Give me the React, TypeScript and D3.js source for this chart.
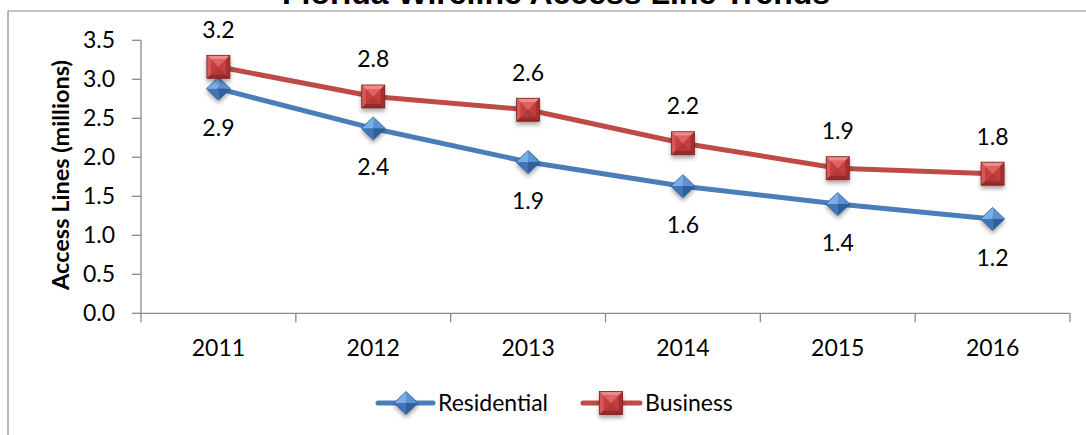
import React from 'react';
import * as d3 from 'd3';

// chart data (millions of access lines)
const years = ['2011', '2012', '2013', '2014', '2015', '2016'];
const residential = [2.88, 2.37, 1.94, 1.63, 1.40, 1.21];
const business = [3.16, 2.78, 2.61, 2.18, 1.86, 1.79];
const yTicks = [0, 0.5, 1.0, 1.5, 2.0, 2.5, 3.0, 3.5];

const title = 'Florida Wireline Access Line Trends';
const yTitle = 'Access Lines (millions)';

const W = 1086;
const H = 435;
const plot = { left: 141, right: 1070, top: 40.3, bottom: 313.3 };
const font = 'Lato, "Open Sans", sans-serif';
const fs = 23;
const axisColor = '#8a8a8a';
const blue = '#4A7EBB';
const red = '#BE4B48';

const Diamond = ({ x, y }: { x: number; y: number }) => {
  const w = 12, h = 11.5;
  return (
    <g transform={`translate(${x},${y})`} filter="url(#mshadow)">
      <polygon points={`0,${-h} ${-w},0 0,0`} fill="#7aaee6" />
      <polygon points={`0,${-h} ${w},0 0,0`} fill="#5b92d3" />
      <polygon points={`${-w},0 0,${h} 0,0`} fill="#3f76b9" />
      <polygon points={`${w},0 0,${h} 0,0`} fill="#2f609d" />
      <polygon points={`0,${-h} ${w},0 0,${h} ${-w},0`} fill="none" stroke="#2a5890" strokeWidth={0.8} />
    </g>
  );
};

const Square = ({ x, y }: { x: number; y: number }) => {
  const s = 11.5, i = 4;
  return (
    <g transform={`translate(${x},${y})`} filter="url(#mshadow)">
      <rect x={-s} y={-s} width={2 * s} height={2 * s} fill="#c43f3f" />
      <polygon points={`${-s},${-s} ${s},${-s} ${s - i},${-s + i} ${-s + i},${-s + i}`} fill="#f08a8a" />
      <polygon points={`${-s},${-s} ${-s + i},${-s + i} ${-s + i},${s - i} ${-s},${s}`} fill="#d85858" />
      <polygon points={`${s},${-s} ${s},${s} ${s - i},${s - i} ${s - i},${-s + i}`} fill="#a92f2f" />
      <polygon points={`${-s},${s} ${s},${s} ${s - i},${s - i} ${-s + i},${s - i}`} fill="#962a2a" />
      <polygon points={`${-s + i},${-s + i} ${s - i},${-s + i} 0,0`} fill="#e06464" />
      <polygon points={`${-s + i},${s - i} ${s - i},${s - i} 0,0`} fill="#b53838" />
      <rect x={-s} y={-s} width={2 * s} height={2 * s} fill="none" stroke="#7a2424" strokeWidth={0.8} />
    </g>
  );
};

export default function App() {
  const x = d3.scaleBand<string>().domain(years).range([plot.left, plot.right]).padding(0);
  const y = d3.scaleLinear().domain([0, 3.5]).range([plot.bottom, plot.top]);
  const cx = (yr: string) => (x(yr) ?? 0) + x.bandwidth() / 2;
  const fmt = d3.format('.1f');

  const line = d3.line<number>()
    .x((_, i) => cx(years[i]))
    .y(d => y(d));

  const boundaries = [...years.map(yr => x(yr) ?? 0), plot.right];

  return (
    <div style={{ position: 'absolute', left: 0, top: 0 }}>
      <svg width={W} height={H} style={{ display: 'block', background: '#fff' }}>
        <defs>
          <filter id="mshadow" x="-50%" y="-50%" width="200%" height="220%">
            <feDropShadow dx={0} dy={3} stdDeviation={2} floodColor="#000" floodOpacity={0.35} />
          </filter>
        </defs>

        {/* frame */}
        <line x1={8} x2={W} y1={11} y2={11} stroke="#8c8c8c" strokeWidth={1.2} />
        <line x1={8} x2={8} y1={11} y2={H} stroke="#8c8c8c" strokeWidth={1.2} />

        {/* title (cut off at the top edge, as in the source) */}
        <text x={556} y={4} textAnchor="middle" fontFamily='"Liberation Sans", Arial, sans-serif'
          fontWeight="bold" fontSize={32} fill="#000">{title}</text>

        {/* y axis */}
        <line x1={plot.left} x2={plot.left} y1={plot.top} y2={plot.bottom} stroke={axisColor} strokeWidth={1.3} />
        {yTicks.map(t => (
          <g key={t}>
            <line x1={plot.left - 9} x2={plot.left} y1={y(t)} y2={y(t)} stroke={axisColor} strokeWidth={1.3} />
            <text x={115} y={y(t) + 8} textAnchor="end" fontFamily={font} fontSize={fs} fill="#000">{fmt(t)}</text>
          </g>
        ))}
        <text transform={`translate(69,175) rotate(-90)`} textAnchor="middle" fontFamily={font}
          fontWeight="bold" fontSize={23.5} fill="#000">{yTitle}</text>

        {/* x axis */}
        <line x1={plot.left} x2={plot.right} y1={plot.bottom} y2={plot.bottom} stroke={axisColor} strokeWidth={1.3} />
        {boundaries.map((b, i) => (
          <line key={i} x1={b} x2={b} y1={plot.bottom} y2={plot.bottom + 9} stroke={axisColor} strokeWidth={1.3} />
        ))}
        {years.map(yr => (
          <text key={yr} x={cx(yr)} y={356} textAnchor="middle" fontFamily={font} fontSize={fs} fill="#000">{yr}</text>
        ))}

        {/* series lines */}
        <path d={line(residential) ?? ''} fill="none" stroke={blue} strokeWidth={5} strokeLinejoin="round" strokeLinecap="round" />
        <path d={line(business) ?? ''} fill="none" stroke={red} strokeWidth={5} strokeLinejoin="round" strokeLinecap="round" />

        {/* markers */}
        {residential.map((v, i) => <Diamond key={'r' + i} x={cx(years[i])} y={y(v)} />)}
        {business.map((v, i) => <Square key={'b' + i} x={cx(years[i])} y={y(v)} />)}

        {/* data labels */}
        {residential.map((v, i) => (
          <text key={'rl' + i} x={cx(years[i])} y={y(v) + 47} textAnchor="middle" fontFamily={font} fontSize={fs} fill="#000">{fmt(v)}</text>
        ))}
        {business.map((v, i) => (
          <text key={'bl' + i} x={cx(years[i])} y={y(v) - 29} textAnchor="middle" fontFamily={font} fontSize={fs} fill="#000">{fmt(v)}</text>
        ))}

        {/* legend */}
        <line x1={378} x2={433} y1={403} y2={403} stroke={blue} strokeWidth={5} strokeLinecap="round" />
        <Diamond x={406} y={403} />
        <text x={438} y={411} fontFamily={font} fontSize={fs} fill="#000">Residential</text>
        <line x1={583} x2={640} y1={403} y2={403} stroke={red} strokeWidth={5} strokeLinecap="round" />
        <Square x={611} y={403} />
        <text x={645} y={411} fontFamily={font} fontSize={fs} fill="#000">Business</text>
      </svg>
    </div>
  );
}
